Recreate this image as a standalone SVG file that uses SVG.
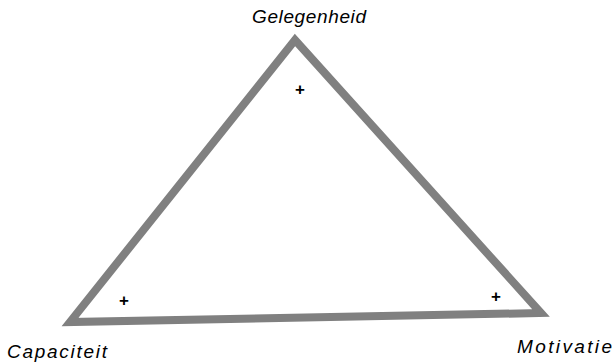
<svg xmlns="http://www.w3.org/2000/svg" width="616" height="364" viewBox="0 0 616 364">
<style>
.lbl{font-family:"Liberation Sans",Arial,sans-serif;font-style:italic;font-size:19px;fill:#000}
.plus{font-family:"Liberation Sans",Arial,sans-serif;font-size:17px;font-weight:bold;fill:#000;text-anchor:middle}
</style>
<rect width="616" height="364" fill="#fff"/>
<g id="connectors">
<polygon points="295,40 541,313 70,322" fill="none" stroke="#808080" stroke-width="8" stroke-linejoin="miter"/>
</g>
<g id="gelegenheid"><text class="lbl" x="252" y="23" textLength="114" lengthAdjust="spacing">Gelegenheid</text><text class="plus" x="300" y="95">+</text></g>
<g id="capaciteit"><text class="lbl" x="7" y="358" textLength="100" lengthAdjust="spacing">Capaciteit</text><text class="plus" x="124" y="306">+</text></g>
<g id="motivatie"><text class="lbl" x="517" y="353" textLength="95" lengthAdjust="spacing">Motivatie</text><text class="plus" x="496" y="302">+</text></g>
</svg>
